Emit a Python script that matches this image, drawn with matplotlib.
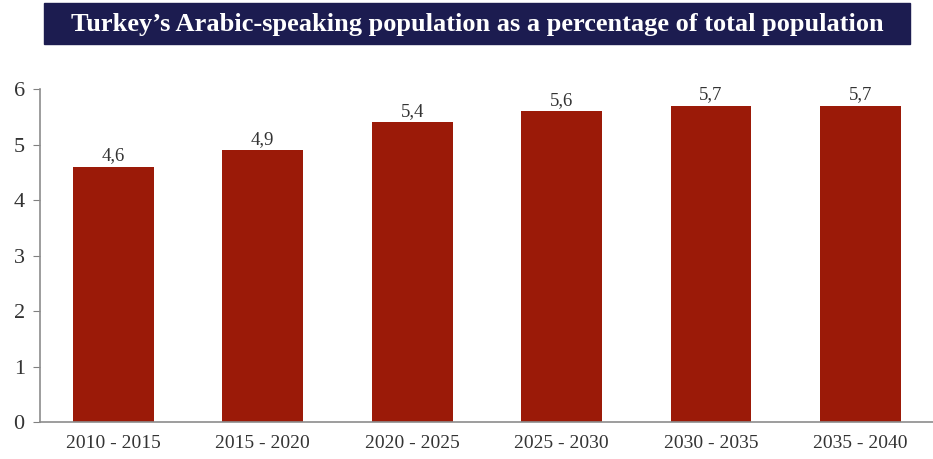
import matplotlib.pyplot as plt
from matplotlib.patches import Rectangle

periods = ["2010 - 2015", "2015 - 2020", "2020 - 2025", "2025 - 2030", "2030 - 2035", "2035 - 2040"]
shares = [4.6, 4.9, 5.4, 5.6, 5.7, 5.7]
labels = ["4,6", "4,9", "5,4", "5,6", "5,7", "5,7"]

plt.rcParams["font.family"] = ["Liberation Serif", "DejaVu Serif"]

fig = plt.figure(figsize=(9.33, 4.59), dpi=100)
ax = fig.add_axes([0.0429, 0.0806, 0.957, 0.7255])

x = range(len(periods))
bars = ax.bar(x, shares, width=0.54, color="#9b1a08", zorder=2)
for b, lab in zip(bars, labels):
    ax.text(b.get_x() + b.get_width() / 2, b.get_height() + 0.04, lab,
            ha="center", va="bottom", fontsize=13.5, color="#333333")

ax.set_xlim(-0.491, 5.485)
ax.set_ylim(0, 6)
ax.set_yticks(range(0, 7))
ax.set_xticks(list(x))
ax.set_xticklabels(periods, fontsize=14, color="#333333")
ax.tick_params(axis="y", labelsize=16, colors="#333333", length=5, color="#808080", pad=6)
ax.tick_params(axis="x", length=0, pad=9)
for s in ["top", "right"]:
    ax.spines[s].set_visible(False)
for s in ["left", "bottom"]:
    ax.spines[s].set_color("#8c8c8c")
    ax.spines[s].set_linewidth(1.2)

# title banner
fig.patches.append(Rectangle((44 / 933, 1 - 44 / 459), 866 / 933, 41 / 459,
                             transform=fig.transFigure, color="#1c1c50", zorder=0))
fig.text((44 + 910) / 2 / 933, 1 - 24 / 459,
         "Turkey\u2019s Arabic-speaking population as a percentage of total population",
         ha="center", va="center", color="white", fontsize=19, fontweight="bold")

fig.savefig("out.png", dpi=100)
